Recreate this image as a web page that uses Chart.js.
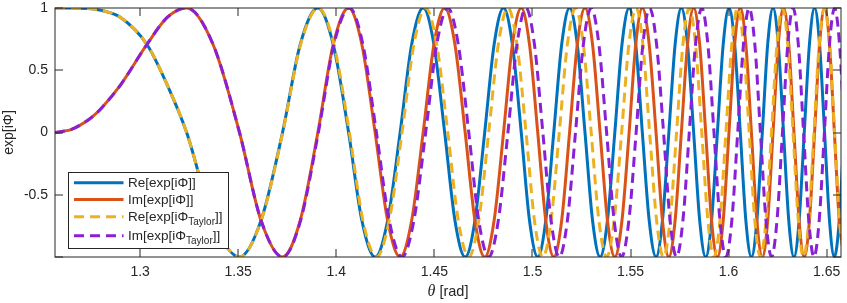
<!DOCTYPE html>
<html>
<head>
<meta charset="utf-8">
<script src="https://cdn.jsdelivr.net/npm/chart.js@4/dist/chart.umd.min.js"></script>
<style>
  html, body { margin: 0; padding: 0; background: #ffffff; }
  #c { display: block; }
</style>
</head>
<body>
<canvas id="c" width="847" height="303"></canvas>
<script>
// ---- data (theta in rad) ----
const seriesNames = ['Re[exp[iΦ]]', 'Im[exp[iΦ]]', 'Re[exp[iΦTaylor]]', 'Im[exp[iΦTaylor]]'];

// sample positions of the exact phase (extrema, zero crossings and ±0.707 levels)
const thetaExact = [
  1.2566, 1.26500, 1.27334, 1.27717, 1.28026, 1.29005, 1.30347, 1.31380,
  1.32372, 1.33719, 1.35066, 1.36163, 1.37260, 1.38161, 1.39061, 1.39845,
  1.40628, 1.41304, 1.41980, 1.42618, 1.43255, 1.43842, 1.44429, 1.44978,
  1.45526, 1.46049, 1.46571, 1.47069, 1.47566, 1.48046, 1.48526, 1.48978,
  1.49429, 1.49850, 1.50270, 1.50679, 1.51087, 1.51490, 1.51893, 1.52286,
  1.52679, 1.53064, 1.53449, 1.53824, 1.54199, 1.54564, 1.54929, 1.55266,
  1.55602, 1.55952, 1.56301, 1.56628, 1.56954, 1.57273, 1.57592, 1.57906,
  1.58219, 1.58526, 1.58832, 1.59131, 1.59429, 1.59725, 1.60020, 1.60309,
  1.60597, 1.60880, 1.61163, 1.61441, 1.61719, 1.61992, 1.62265, 1.62533,
  1.62801, 1.63067, 1.63332, 1.63595, 1.63857, 1.64120, 1.64383, 1.64638,
  1.64893, 1.65143, 1.65393, 1.65641, 1.65888
];

// sample positions of the Taylor phase (same phase levels, lagging further right)
const thetaTaylor = [
  1.2566, 1.26500, 1.27334, 1.27717, 1.28026, 1.29005, 1.30347, 1.31380,
  1.32372, 1.33719, 1.35066, 1.36168, 1.37270, 1.38179, 1.39087, 1.39878,
  1.40669, 1.41358, 1.42046, 1.42699, 1.43352, 1.43955, 1.44557, 1.45121,
  1.45684, 1.46220, 1.46755, 1.47263, 1.47770, 1.48260, 1.48750, 1.49212,
  1.49674, 1.50102, 1.50530, 1.50949, 1.51368, 1.51781, 1.52194, 1.52595,
  1.52995, 1.53388, 1.53781, 1.54164, 1.54546, 1.54916, 1.55286, 1.55630,
  1.55974, 1.56329, 1.56684, 1.57016, 1.57347, 1.57671, 1.57995, 1.58314,
  1.58632, 1.58944, 1.59255, 1.59559, 1.59863, 1.60164, 1.60464, 1.60758,
  1.61051, 1.61337, 1.61622, 1.61905, 1.62188, 1.62467, 1.62745, 1.63016,
  1.63286, 1.63554, 1.63822, 1.64087, 1.64352, 1.64618, 1.64883, 1.65143,
  1.65403, 1.65656, 1.65908
];

// real part at those samples
const reValues = [
  1, 1.000, 0.995, 0.989, 0.981, 0.924, 0.707, 0.383,
  0, -0.707, -1, -0.707, 0, 0.707, 1, 0.707,
  0, -0.707, -1, -0.707, 0, 0.707, 1, 0.707,
  0, -0.707, -1, -0.707, 0, 0.707, 1, 0.707,
  0, -0.707, -1, -0.707, 0, 0.707, 1, 0.707,
  0, -0.707, -1, -0.707, 0, 0.707, 1, 0.707,
  0, -0.707, -1, -0.707, 0, 0.707, 1, 0.707,
  0, -0.707, -1, -0.707, 0, 0.707, 1, 0.707,
  0, -0.707, -1, -0.707, 0, 0.707, 1, 0.707,
  0, -0.707, -1, -0.707, 0, 0.707, 1, 0.707,
  0, -0.707, -1, -0.707, 0
];

// imaginary part at those samples
const imValues = [
  0, 0.025, 0.098, 0.147, 0.195, 0.383, 0.707, 0.924,
  1, 0.707, 0, -0.707, -1, -0.707, 0, 0.707,
  1, 0.707, 0, -0.707, -1, -0.707, 0, 0.707,
  1, 0.707, 0, -0.707, -1, -0.707, 0, 0.707,
  1, 0.707, 0, -0.707, -1, -0.707, 0, 0.707,
  1, 0.707, 0, -0.707, -1, -0.707, 0, 0.707,
  1, 0.707, 0, -0.707, -1, -0.707, 0, 0.707,
  1, 0.707, 0, -0.707, -1, -0.707, 0, 0.707,
  1, 0.707, 0, -0.707, -1, -0.707, 0, 0.707,
  1, 0.707, 0, -0.707, -1, -0.707, 0, 0.707,
  1, 0.707, 0, -0.707, -1
];

const xTicks = [1.3, 1.35, 1.4, 1.45, 1.5, 1.55, 1.6, 1.65];
const xTickLabels = ['1.3', '1.35', '1.4', '1.45', '1.5', '1.55', '1.6', '1.65'];
const yTicks = [-1, -0.5, 0, 0.5, 1];
const yTickLabels = ['', '-0.5', '0', '0.5', '1'];
const xRange = [1.2566, 1.6573];
const yRange = [-1, 1];

// ---- styling ----
const COLORS = ['#0072BD', '#D95319', '#EDB120', '#8A1FD8'];
const AXIS = '#262626';
const FONT = '"Liberation Sans", Arial, Helvetica, sans-serif';
const DASH = [10, 6];

function pts(xs, ys) { return xs.map((t, i) => ({ x: t, y: ys[i] })); }

const overlay = {
  id: 'overlay',
  afterDraw(chart) {
    const { ctx, chartArea: a, scales: { x, y } } = chart;
    ctx.save();
    // inward ticks
    ctx.strokeStyle = AXIS;
    ctx.lineWidth = 1;
    ctx.beginPath();
    xTicks.forEach(v => {
      const px = Math.round(x.getPixelForValue(v));
      ctx.moveTo(px, a.bottom); ctx.lineTo(px, a.bottom - 8);
      ctx.moveTo(px, a.top); ctx.lineTo(px, a.top + 8);
    });
    yTicks.forEach(v => {
      const py = Math.round(y.getPixelForValue(v));
      ctx.moveTo(a.left, py); ctx.lineTo(a.left + 8, py);
      ctx.moveTo(a.right, py); ctx.lineTo(a.right - 8, py);
    });
    ctx.stroke();
    // frame
    ctx.strokeRect(Math.round(a.left), Math.round(a.top), Math.round(a.right - a.left), Math.round(a.bottom - a.top));

    // x title: θ [rad]
    ctx.fillStyle = AXIS;
    ctx.textBaseline = 'alphabetic';
    const fTheta = 'italic 16px "Liberation Serif", "DejaVu Serif", serif';
    const fRad = '14.5px ' + FONT;
    ctx.font = fTheta; const w1 = ctx.measureText('θ').width;
    ctx.font = fRad; const w2 = ctx.measureText(' [rad]').width;
    const cx = (a.left + a.right) / 2;
    let sx = cx - (w1 + w2) / 2;
    ctx.font = fTheta; ctx.textAlign = 'left'; ctx.fillText('θ', sx, 295.5);
    ctx.font = fRad; ctx.fillText(' [rad]', sx + w1, 295.5);

    // y title
    ctx.save();
    ctx.translate(12.5, (a.top + a.bottom) / 2);
    ctx.rotate(-Math.PI / 2);
    ctx.font = '14px ' + FONT;
    ctx.textAlign = 'center';
    ctx.fillText('exp[iΦ]', 0, 0);
    ctx.restore();

    // legend
    const bx = a.left + 13.5, by = 172.5, bw = 160, bh = 76;
    ctx.fillStyle = '#ffffff';
    ctx.fillRect(bx, by, bw, bh);
    ctx.strokeStyle = AXIS;
    ctx.lineWidth = 1;
    ctx.strokeRect(bx, by, bw, bh);
    const rows = [
      { y: 182.7, main: 'Re[exp[iΦ', sub: '', tail: ']]', dash: [] },
      { y: 199.5, main: 'Im[exp[iΦ', sub: '', tail: ']]', dash: [] },
      { y: 216.7, main: 'Re[exp[iΦ', sub: 'Taylor', tail: ']]', dash: DASH },
      { y: 235.8, main: 'Im[exp[iΦ', sub: 'Taylor', tail: ']]', dash: DASH }
    ];
    rows.forEach((r, i) => {
      ctx.beginPath();
      ctx.strokeStyle = COLORS[i];
      ctx.lineWidth = 3;
      ctx.setLineDash(r.dash);
      ctx.moveTo(bx + 5.5, r.y); ctx.lineTo(bx + 55, r.y);
      ctx.stroke();
      ctx.setLineDash([]);
      ctx.fillStyle = AXIS;
      ctx.textAlign = 'left';
      let tx = bx + 59.5;
      const base = r.y + 4.4;
      ctx.font = '13.5px ' + FONT;
      ctx.fillText(r.main, tx, base);
      tx += ctx.measureText(r.main).width;
      if (r.sub) {
        ctx.font = '10px ' + FONT;
        ctx.fillText(r.sub, tx, base + 4.2);
        tx += ctx.measureText(r.sub).width;
      }
      ctx.font = '13.5px ' + FONT;
      ctx.fillText(r.tail, tx, base);
    });
    ctx.restore();
  }
};

new Chart(document.getElementById('c'), {
  type: 'line',
  data: {
    datasets: [
      { label: seriesNames[0], data: pts(thetaExact, reValues), borderColor: COLORS[0], borderWidth: 3, order: 4 },
      { label: seriesNames[1], data: pts(thetaExact, imValues), borderColor: COLORS[1], borderWidth: 3, order: 3 },
      { label: seriesNames[2], data: pts(thetaTaylor, reValues), borderColor: COLORS[2], borderWidth: 3, borderDash: DASH, order: 2 },
      { label: seriesNames[3], data: pts(thetaTaylor, imValues), borderColor: COLORS[3], borderWidth: 3, borderDash: DASH, order: 1 }
    ]
  },
  options: {
    responsive: false,
    animation: false,
    devicePixelRatio: 1,
    layout: { padding: { top: 8, right: 6, left: 0, bottom: 0 } },
    plugins: { legend: { display: false }, tooltip: { enabled: false }, title: { display: false } },
    elements: {
      point: { radius: 0, hoverRadius: 0 },
      line: { cubicInterpolationMode: 'monotone', fill: false, borderCapStyle: 'butt', borderJoinStyle: 'round' }
    },
    scales: {
      x: {
        type: 'linear', min: xRange[0], max: xRange[1],
        grid: { display: false, drawTicks: false },
        border: { display: false },
        afterBuildTicks: s => { s.ticks = xTicks.map(v => ({ value: v })); },
        afterFit: s => { s.height = 46; s.paddingLeft = 0; s.paddingRight = 0; },
        ticks: {
          autoSkip: false, maxRotation: 0, padding: 7, color: AXIS,
          font: { family: FONT, size: 14 },
          callback: (v, i) => xTickLabels[i]
        }
      },
      y: {
        type: 'linear', min: yRange[0], max: yRange[1],
        grid: { display: false, drawTicks: false },
        border: { display: false },
        afterBuildTicks: s => { s.ticks = yTicks.map(v => ({ value: v })); },
        afterFit: s => { s.width = 55; s.paddingTop = 0; s.paddingBottom = 0; },
        ticks: {
          autoSkip: false, padding: 7, color: AXIS,
          font: { family: FONT, size: 14 },
          callback: (v, i) => yTickLabels[i]
        }
      }
    }
  },
  plugins: [overlay]
});
</script>
</body>
</html>
